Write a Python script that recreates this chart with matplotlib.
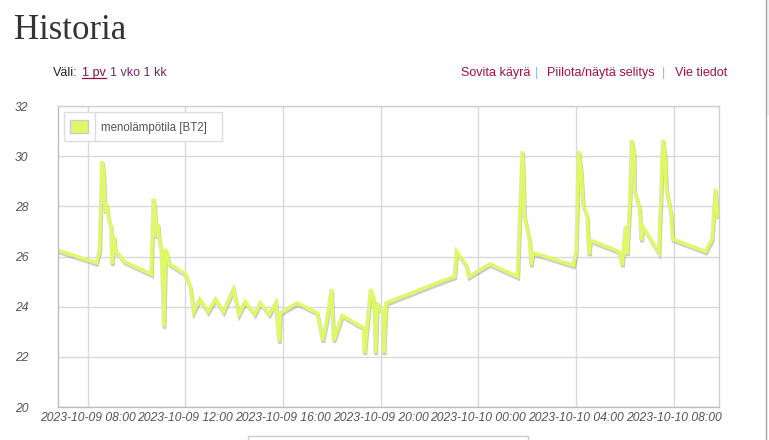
import matplotlib
matplotlib.use('Agg')
import matplotlib.pyplot as plt
import matplotlib.dates as mdates
import matplotlib.patheffects as pe
from matplotlib.patches import Rectangle
from matplotlib.lines import Line2D
import pandas as pd

W, H = 769, 440

day1 = ['06:46', '08:21', '08:29', '08:35', '08:39', '08:43', '08:46', '08:52', '08:57', '09:00',
        '09:04', '09:08', '09:30', '10:36', '10:41', '10:44', '10:49', '10:52', '10:56', '11:01',
        '11:07', '11:11', '11:15', '11:21', '12:00', '12:12', '12:20', '12:35', '12:55', '13:14',
        '13:33', '13:58', '14:11', '14:27', '14:50', '15:04', '15:26', '15:42', '15:50', '15:53',
        '16:35', '17:24', '17:37', '17:46', '17:59', '18:04', '18:25', '19:18', '19:20', '19:35',
        '19:43', '19:47', '19:51', '20:05', '20:07', '20:13', '22:27', '23:01', '23:06', '23:30',
        '23:36']
vals1 = [26.25, 25.75, 26.25, 29.8, 29.3, 27.8, 28.1, 27.45, 27.2, 25.7,
         26.8, 26.25, 25.8, 25.3, 28.3, 28.05, 26.8, 27.3, 26.65, 26.25,
         23.2, 26.3, 26.1, 25.7, 25.3, 24.8, 23.8, 24.3, 23.8, 24.3,
         23.8, 24.7, 23.7, 24.2, 23.7, 24.15, 23.7, 24.15, 22.6, 23.75,
         24.15, 23.75, 22.65, 23.35, 24.7, 22.65, 23.65, 23.15, 22.15, 24.7,
         24.25, 22.15, 24.15, 23.75, 22.15, 24.15, 25.0, 25.2, 26.2, 25.65,
         25.2]
day2 = ['00:28', '01:36', '01:41', '01:48', '01:53', '02:06', '02:09', '02:14', '03:53', '04:00',
        '04:06', '04:12', '04:17', '04:27', '04:31', '04:35', '05:45', '05:53', '06:01', '06:05',
        '06:12', '06:16', '06:22', '06:23', '06:36', '06:40', '06:44', '07:23', '07:27', '07:33',
        '07:38', '07:42', '07:53', '07:57', '08:04', '09:18', '09:34', '09:42', '09:48']
vals2 = [25.7, 25.2, 27.45, 30.2, 27.6, 26.6, 25.65, 26.15, 25.65, 26.2,
         30.2, 29.45, 28.05, 27.6, 26.1, 26.65, 26.2, 25.65, 27.2, 26.1,
         28.25, 30.65, 30.1, 28.65, 27.9, 26.65, 27.2, 26.15, 27.85, 30.65,
         30.1, 28.65, 27.7, 26.7, 26.65, 26.2, 26.7, 28.7, 27.65]

series_label = 'menolämpötila [BT2]'
y_ticks = [20, 22, 24, 26, 28, 30, 32]
x_start = '2023-10-09 06:46'
x_end = '2023-10-10 09:50'

times = pd.to_datetime(['2023-10-09 ' + t for t in day1] + ['2023-10-10 ' + t for t in day2])
values = vals1 + vals2

line_col = '#dff86a'
text_col = '#545454'
grid_col = '#d9d9d9'
sans = 'Liberation Sans'


def fx(x):
    return x / W


def fy(y):
    return 1 - y / H


fig = plt.figure(figsize=(W / 100, H / 100), dpi=100)
fig.patch.set_facecolor('white')

# plot area
ax_l, ax_r, ax_t, ax_b = 57.5, 718.5, 106, 407
ax = fig.add_axes([fx(ax_l), fy(ax_b), (ax_r - ax_l) / W, (ax_b - ax_t) / H])
ax.plot(times, values, color=line_col, lw=2.6, solid_joinstyle='miter',
        path_effects=[pe.SimpleLineShadow(offset=(0.7, -1.5), shadow_color='#808080', alpha=0.4),
                      pe.Normal()])
ax.set_xlim(pd.Timestamp(x_start), pd.Timestamp(x_end))
ax.set_ylim(20, 32)
ax.set_yticks(y_ticks)
ax.xaxis.set_major_locator(mdates.HourLocator(byhour=[0, 4, 8, 12, 16, 20]))
ax.xaxis.set_major_formatter(mdates.DateFormatter('%Y-%m-%d %H:%M'))
ax.grid(True, color=grid_col, lw=1)
ax.set_axisbelow(True)
for s in ax.spines.values():
    s.set_color('#cfcfcf')
    s.set_linewidth(1)
ax.spines['left'].set_color('#bdbdbd')
ax.spines['bottom'].set_color('#bdbdbd')
ax.tick_params(length=0, colors=text_col)
ax.tick_params(axis='y', pad=21)
ax.tick_params(axis='x', pad=3.5)
for lab in ax.get_xticklabels() + ax.get_yticklabels():
    lab.set_fontstyle('italic')
    lab.set_fontfamily(sans)
    lab.set_fontsize(8.7)
    lab.set_color(text_col)

# legend box
fig.add_artist(Rectangle((fx(64), fy(141)), (222 - 64) / W, (141 - 112) / H,
                         transform=fig.transFigure, facecolor='white', edgecolor='#dddddd', lw=1))
fig.add_artist(Rectangle((fx(70), fy(133)), 18 / W, 13 / H,
                         transform=fig.transFigure, facecolor=line_col, edgecolor='#cccccc', lw=1))
fig.add_artist(Line2D([fx(95), fx(95)], [fy(112), fy(141)], transform=fig.transFigure,
                      color='#dddddd', lw=1))
fig.text(fx(101), fy(131), series_label, fontsize=8.3, color=text_col, va='baseline', family=sans)

# header
base = fy(76)
fig.text(fx(14), fy(39), 'Historia', fontsize=25, color='#333333', family='Liberation Serif',
         va='baseline')
fig.text(fx(53), base, 'Väli:', fontsize=9, color='#222222', va='baseline', family=sans)
fig.text(fx(82), base, '1 pv', fontsize=9, color='#8b1538', va='baseline', family=sans)
fig.add_artist(Line2D([fx(82), fx(106)], [fy(78), fy(78)], transform=fig.transFigure,
                      color='#8b1538', lw=0.9))
fig.text(fx(110), base, '1 vko 1 kk', fontsize=9, color='#7a2a5a', va='baseline', family=sans)

link_col = '#a3123f'
sep_col = '#8fb4d6'
fig.text(fx(461), base, 'Sovita käyrä', fontsize=9, color=link_col, va='baseline', family=sans)
fig.text(fx(535), base, '|', fontsize=9, color=sep_col, va='baseline', family=sans)
fig.text(fx(547), base, 'Piilota/näytä selitys', fontsize=9, color=link_col, va='baseline',
         family=sans)
fig.text(fx(662), base, '|', fontsize=9, color=sep_col, va='baseline', family=sans)
fig.text(fx(675), base, 'Vie tiedot', fontsize=9, color=link_col, va='baseline', family=sans)

# page furniture
fig.add_artist(Rectangle((fx(248), fy(441)), (528 - 248) / W, 5 / H,
                         transform=fig.transFigure, facecolor='white', edgecolor='#cccccc', lw=1))
fig.add_artist(Rectangle((fx(766), fy(115)), 3 / W, 115 / H,
                         transform=fig.transFigure, facecolor='#f0f0f0', edgecolor='none'))
fig.add_artist(Line2D([fx(765.5), fx(765.5)], [0, 1], transform=fig.transFigure,
                      color='#a8a8a8', lw=1))

fig.savefig('out.png', dpi=100)
